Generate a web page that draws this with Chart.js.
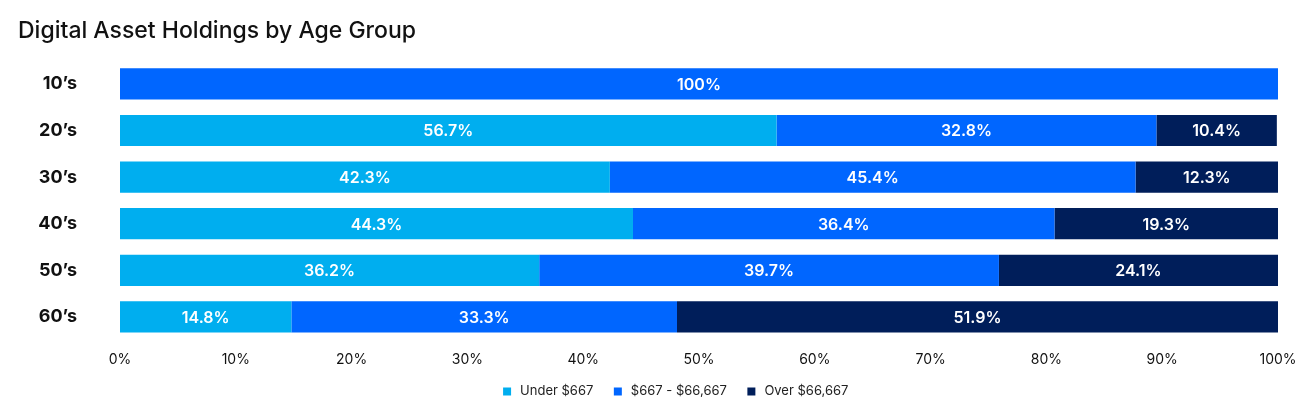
<!DOCTYPE html>
<html>
<head>
<meta charset="utf-8">
<script src="https://cdn.jsdelivr.net/npm/chart.js@4"></script>
<style>
  html, body { margin: 0; padding: 0; background: #fff; }
  #wrap { width: 1311px; height: 414px; position: relative; }
</style>
</head>
<body>
<div id="wrap"><canvas id="c"></canvas></div>
<script>
const categories = ["10\u2019s", "20\u2019s", "30\u2019s", "40\u2019s", "50\u2019s", "60\u2019s"];
const seriesNames = ["Under $667", "$667 - $66,667", "Over $66,667"];
const underValues = [0, 56.7, 42.3, 44.3, 36.2, 14.8];
const midValues = [100, 32.8, 45.4, 36.4, 39.7, 33.3];
const overValues = [0, 10.4, 12.3, 19.3, 24.1, 51.9];
const xTicks = [0, 10, 20, 30, 40, 50, 60, 70, 80, 90, 100];
const colors = ["#00AEEF", "#0066FF", "#001E5A"];

const FONT = "Inter, 'Open Sans', sans-serif";

const valueLabels = {
  id: 'valueLabels',
  afterDatasetsDraw(chart) {
    const ctx = chart.ctx;
    ctx.save();
    ctx.font = "600 16px " + FONT;
    ctx.fillStyle = "#ffffff";
    ctx.textAlign = "center";
    ctx.textBaseline = "middle";
    chart.data.datasets.forEach((ds, di) => {
      const meta = chart.getDatasetMeta(di);
      meta.data.forEach((bar, i) => {
        const v = ds.data[i];
        if (!v) return;
        const left = Math.min(bar.x, bar.base);
        const right = Math.max(bar.x, bar.base);
        const txt = (v === 100 ? "100" : v.toFixed(1)) + "%";
        ctx.fillText(txt, (left + right) / 2, bar.y + 1);
      });
    });
    ctx.restore();
  }
};

const legendShift = {
  id: 'legendShift',
  afterLayout(chart) {
    if (chart.legend) {
      chart.legend.left = 38;
      chart.legend.right = 1311;
    }
  }
};

new Chart(document.getElementById('c'), {
  type: 'bar',
  data: {
    labels: categories,
    datasets: [
      { label: seriesNames[0], data: underValues, backgroundColor: colors[0] },
      { label: seriesNames[1], data: midValues, backgroundColor: colors[1] },
      { label: seriesNames[2], data: overValues, backgroundColor: colors[2] }
    ]
  },
  options: {
    indexAxis: 'y',
    responsive: true,
    maintainAspectRatio: false,
    animation: false,
    layout: { padding: { left: 18, right: 33, top: 17, bottom: 6 } },
    datasets: { bar: { categoryPercentage: 1, barPercentage: 0.67, borderWidth: 0 } },
    scales: {
      x: {
        stacked: true,
        min: 0, max: 100,
        afterBuildTicks(scale) { scale.ticks = xTicks.map(v => ({ value: v })); },
        afterFit(scale) { scale.height = scale.height - 12; },
        grid: { display: false, drawTicks: false },
        border: { display: false },
        ticks: {
          padding: 11,
          color: "#111",
          font: { family: FONT, size: 14 },
          callback: v => v + "%"
        }
      },
      y: {
        stacked: true,
        grid: { display: false, drawTicks: false },
        border: { display: false },
        afterFit(scale) { scale.width = 102; },
        ticks: {
          padding: 43,
          color: "#111",
          font: { family: FONT, size: 18, weight: '700' }
        }
      }
    },
    plugins: {
      title: {
        display: true,
        text: "Digital Asset Holdings by Age Group",
        align: 'start',
        color: "#111",
        font: { family: FONT, size: 23, weight: '500' },
        padding: { top: 0, bottom: 16 }
      },
      legend: {
        position: 'bottom',
        labels: {
          usePointStyle: true,
          pointStyle: 'rect',
          boxWidth: 13,
          boxHeight: 8,
          padding: 18,
          color: "#222",
          font: { family: FONT, size: 13 }
        }
      },
      tooltip: { enabled: false }
    }
  },
  plugins: [valueLabels, legendShift]
});
</script>
</body>
</html>
